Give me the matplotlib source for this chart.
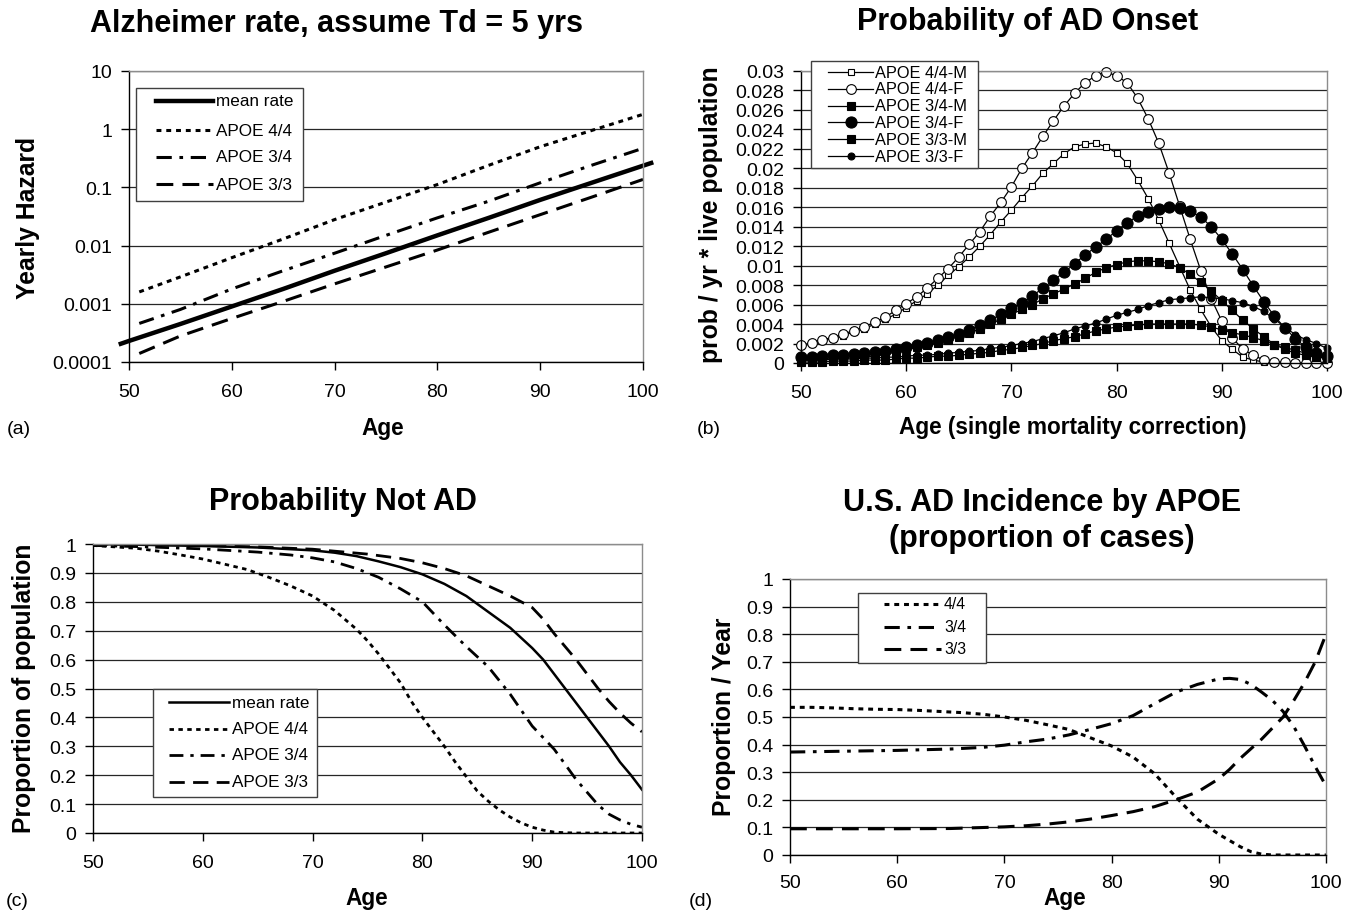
import numpy as np
import matplotlib
matplotlib.use("Agg")
import matplotlib.pyplot as plt
from matplotlib.ticker import FixedLocator, FuncFormatter, NullLocator
from matplotlib.lines import Line2D
from matplotlib.patches import Rectangle

plt.rcParams['font.family'] = ['Liberation Sans', 'DejaVu Sans']

# ---------------- data ----------------
# (a) yearly hazard (log scale)
a_mean_age = [49, 50, 55, 60, 65, 70, 75, 80, 85, 90, 95, 101]
a_mean = [0.0002, 0.00023, 0.00045, 0.0009, 0.0018, 0.0037, 0.0074, 0.015, 0.03, 0.061, 0.12, 0.27]
a_age = [51, 55, 60, 65, 70, 75, 80, 85, 90, 95, 100]
a_44 = [0.0016, 0.0029, 0.0062, 0.013, 0.028, 0.056, 0.112, 0.24, 0.5, 0.95, 1.8]
a_34 = [0.00046, 0.0008, 0.0018, 0.0037, 0.0074, 0.015, 0.03, 0.058, 0.12, 0.24, 0.47]
a_33 = [0.00014, 0.00028, 0.00056, 0.0011, 0.0022, 0.0043, 0.0084, 0.017, 0.034, 0.068, 0.137]
a_yticks = [0.0001, 0.001, 0.01, 0.1, 1, 10]
a_labels = ['mean rate', 'APOE 4/4', 'APOE 3/4', 'APOE 3/3']

# (b) probability of AD onset, ages 50..100
b_age = list(range(50, 101))
b_44M = [0.0017, 0.0020, 0.0023, 0.0025, 0.0028, 0.0032, 0.0035, 0.0040, 0.0045, 0.0050,
         0.0057, 0.0064, 0.0071, 0.0080, 0.0090, 0.0099, 0.0109, 0.0120, 0.0132, 0.0145,
         0.0157, 0.0170, 0.0182, 0.0195, 0.0205, 0.0215, 0.0222, 0.0225, 0.0226, 0.0222,
         0.0216, 0.0205, 0.0188, 0.0169, 0.0147, 0.0123, 0.0099, 0.0075, 0.0055, 0.0037,
         0.0023, 0.0014, 0.0006, 0.0003, 0.0001, 0.0001, 0.0, 0.0, 0.0, 0.0, 0.0]
b_44F = [0.0018, 0.0021, 0.0024, 0.0026, 0.0030, 0.0033, 0.0037, 0.0042, 0.0047, 0.0054,
         0.0061, 0.0068, 0.0077, 0.0087, 0.0097, 0.0109, 0.0122, 0.0135, 0.0151, 0.0165,
         0.0181, 0.0200, 0.0216, 0.0233, 0.0249, 0.0264, 0.0277, 0.0288, 0.0295, 0.0299,
         0.0295, 0.0288, 0.0272, 0.0251, 0.0226, 0.0195, 0.0161, 0.0127, 0.0095, 0.0066,
         0.0043, 0.0026, 0.0014, 0.0008, 0.0003, 0.0001, 0.0001, 0.0, 0.0, 0.0, 0.0]
b_34M = [0.0003, 0.0003, 0.0004, 0.0004, 0.0005, 0.0005, 0.0006, 0.0007, 0.0009, 0.0011,
         0.0014, 0.0016, 0.0018, 0.0021, 0.0024, 0.0027, 0.0031, 0.0035, 0.0040, 0.0045,
         0.0050, 0.0055, 0.0060, 0.0066, 0.0071, 0.0076, 0.0081, 0.0087, 0.0093, 0.0098,
         0.0101, 0.0104, 0.0105, 0.0105, 0.0104, 0.0102, 0.0098, 0.0091, 0.0083, 0.0074,
         0.0064, 0.0054, 0.0044, 0.0035, 0.0027, 0.0019, 0.0014, 0.0010, 0.0008, 0.0006, 0.0005]
b_34F = [0.0006, 0.0006, 0.0007, 0.0008, 0.0008, 0.0009, 0.0010, 0.0011, 0.0012, 0.0014,
         0.0016, 0.0018, 0.0021, 0.0024, 0.0027, 0.0030, 0.0034, 0.0039, 0.0044, 0.0050,
         0.0056, 0.0062, 0.0069, 0.0077, 0.0085, 0.0093, 0.0102, 0.0111, 0.0119, 0.0127,
         0.0136, 0.0144, 0.0151, 0.0155, 0.0158, 0.0160, 0.0159, 0.0156, 0.0150, 0.0140,
         0.0127, 0.0112, 0.0096, 0.0079, 0.0063, 0.0048, 0.0036, 0.0025, 0.0016, 0.0010, 0.0007]
b_33M = [0.0001, 0.0001, 0.0001, 0.0002, 0.0002, 0.0002, 0.0003, 0.0003, 0.0003, 0.0004,
         0.0005, 0.0005, 0.0006, 0.0007, 0.0007, 0.0008, 0.0009, 0.0010, 0.0011, 0.0013,
         0.0014, 0.0016, 0.0018, 0.0020, 0.0023, 0.0025, 0.0027, 0.0030, 0.0033, 0.0035,
         0.0037, 0.0038, 0.0039, 0.0040, 0.0040, 0.0040, 0.0040, 0.0040, 0.0039, 0.0037,
         0.0034, 0.0031, 0.0029, 0.0026, 0.0023, 0.0019, 0.0016, 0.0013, 0.0010, 0.0008, 0.0006]
b_33F = [0.0003, 0.0003, 0.0003, 0.0004, 0.0004, 0.0004, 0.0005, 0.0005, 0.0006, 0.0006,
         0.0007, 0.0008, 0.0008, 0.0009, 0.0010, 0.0011, 0.0012, 0.0013, 0.0015, 0.0016,
         0.0018, 0.0020, 0.0022, 0.0025, 0.0028, 0.0031, 0.0035, 0.0038, 0.0041, 0.0045,
         0.0049, 0.0052, 0.0055, 0.0059, 0.0062, 0.0065, 0.0066, 0.0067, 0.0068, 0.0067,
         0.0066, 0.0064, 0.0062, 0.0058, 0.0053, 0.0045, 0.0037, 0.0029, 0.0024, 0.0020, 0.0015]
b_yticks = [0, 0.002, 0.004, 0.006, 0.008, 0.01, 0.012, 0.014, 0.016, 0.018, 0.02,
            0.022, 0.024, 0.026, 0.028, 0.03]
b_labels = ['APOE 4/4-M', 'APOE 4/4-F', 'APOE 3/4-M', 'APOE 3/4-F', 'APOE 3/3-M', 'APOE 3/3-F']

# (c) probability not AD
c_mean_age = [50, 55, 60, 65, 70, 72, 74, 76, 78, 80, 82, 84, 86, 88, 90, 91, 92, 93, 94, 95, 96, 97, 98, 99, 100]
c_mean = [1.0, 0.997, 0.993, 0.988, 0.978, 0.97, 0.958, 0.94, 0.92, 0.895, 0.862, 0.82, 0.765,
          0.71, 0.64, 0.6, 0.55, 0.5, 0.45, 0.4, 0.35, 0.3, 0.245, 0.2, 0.15]
c_44_age = [50, 52, 54, 56, 58, 60, 62, 64, 66, 68, 70, 72, 74, 75, 76, 77, 78, 79, 80, 81, 82,
            83, 84, 85, 86, 87, 88, 89, 90, 91, 92, 93, 94, 100]
c_44 = [0.995, 0.99, 0.985, 0.975, 0.962, 0.948, 0.93, 0.912, 0.885, 0.855, 0.82, 0.77, 0.705,
        0.665, 0.62, 0.57, 0.52, 0.455, 0.4, 0.35, 0.3, 0.245, 0.195, 0.145, 0.11, 0.08, 0.055,
        0.035, 0.02, 0.01, 0.003, 0.001, 0.0, 0.0]
c_34_age = [50, 55, 60, 65, 68, 70, 72, 74, 76, 78, 80, 82, 84, 86, 88, 90, 92, 94, 96, 97, 98, 99, 100]
c_34 = [0.995, 0.99, 0.983, 0.972, 0.962, 0.952, 0.938, 0.915, 0.885, 0.845, 0.8, 0.72, 0.645,
        0.575, 0.48, 0.37, 0.29, 0.185, 0.097, 0.065, 0.045, 0.03, 0.02]
c_33_age = [50, 55, 60, 65, 70, 75, 78, 80, 82, 84, 86, 88, 90, 91, 92, 93, 94, 95, 96, 97, 98, 99, 100]
c_33 = [1.0, 0.998, 0.995, 0.99, 0.982, 0.965, 0.95, 0.935, 0.915, 0.89, 0.855, 0.82, 0.78,
        0.74, 0.69, 0.645, 0.6, 0.55, 0.5, 0.455, 0.415, 0.38, 0.35]

# (d) U.S. AD incidence by APOE
d_44_age = [50, 52, 54, 56, 58, 60, 62, 64, 66, 68, 70, 72, 74, 76, 78, 80, 82, 84, 86, 88, 90, 92, 93, 94, 95, 100]
d_44 = [0.535, 0.535, 0.533, 0.53, 0.528, 0.527, 0.524, 0.52, 0.516, 0.51, 0.5, 0.488, 0.472,
        0.455, 0.425, 0.395, 0.355, 0.295, 0.21, 0.13, 0.075, 0.03, 0.012, 0.003, 0.0, 0.0]
d_34_age = [50, 55, 60, 65, 68, 70, 72, 74, 76, 78, 80, 82, 84, 86, 88, 90, 91, 92, 93, 94, 95, 96, 97, 98, 99, 100]
d_34 = [0.373, 0.376, 0.379, 0.384, 0.39, 0.398, 0.41, 0.42, 0.435, 0.455, 0.476, 0.505, 0.548,
        0.59, 0.618, 0.638, 0.64, 0.636, 0.618, 0.59, 0.56, 0.52, 0.465, 0.395, 0.32, 0.25]
d_33_age = [50, 55, 60, 65, 70, 72, 74, 76, 78, 80, 82, 84, 86, 88, 90, 91, 92, 93, 94, 95, 96, 97, 98, 99, 100]
d_33 = [0.095, 0.095, 0.095, 0.096, 0.102, 0.106, 0.112, 0.12, 0.13, 0.143, 0.157, 0.175, 0.2,
        0.228, 0.276, 0.31, 0.35, 0.385, 0.42, 0.46, 0.5, 0.56, 0.625, 0.7, 0.8]
d_labels = ['4/4', '3/4', '3/3']

unit_yticks = [0, 0.1, 0.2, 0.3, 0.4, 0.5, 0.6, 0.7, 0.8, 0.9, 1]
x_ticks = [50, 60, 70, 80, 90, 100]

# ---------------- layout helpers ----------------
W, H = 1353, 912
fig = plt.figure(figsize=(W / 100, H / 100), dpi=100)


def rect(l, r, t, b):
    return [l / W, 1 - b / H, (r - l) / W, (b - t) / H]


def fx(x):
    return x / W


def fy(y):
    return 1 - y / H


fmt = FuncFormatter(lambda v, p: '{:g}'.format(round(v, 6)))
TICK_FS = 14
TITLE_FS = 22
XLABEL_FS = 16.3
YLABEL_FS = 17.8
PANEL_FS = 14


def style_axes(ax, yticks, xpad=9):
    for s in ['left', 'bottom']:
        ax.spines[s].set_color('black')
        ax.spines[s].set_linewidth(1.0)
    for s in ['top', 'right']:
        ax.spines[s].set_color('#8c8c8c')
        ax.spines[s].set_linewidth(1.0)
    ax.set_xlim(50, 100)
    ax.xaxis.set_major_locator(FixedLocator(x_ticks))
    ax.yaxis.set_major_locator(FixedLocator(yticks))
    ax.yaxis.set_minor_locator(NullLocator())
    ax.xaxis.set_minor_locator(NullLocator())
    ax.yaxis.set_major_formatter(fmt)
    ax.tick_params(axis='both', direction='out', length=6, width=1, color='black',
                   labelsize=TICK_FS, pad=6)
    ax.tick_params(axis='x', pad=xpad)
    ax.grid(axis='y', color='#262626', linewidth=0.9)
    ax.set_axisbelow(True)


def manual_legend(box, ys, lx0, lx1, tx, labels, styles, fs, markers=None):
    x0, x1, y0, y1 = box
    fig.add_artist(Rectangle((fx(x0), fy(y1)), (x1 - x0) / W, (y1 - y0) / H,
                             transform=fig.transFigure, facecolor='white',
                             edgecolor='#404040', linewidth=1.0, zorder=10))
    for i, (y, lab, st) in enumerate(zip(ys, labels, styles)):
        fig.add_artist(Line2D([fx(lx0), fx(lx1)], [fy(y), fy(y)], transform=fig.transFigure,
                              color='black', zorder=11, **st))
        if markers is not None:
            mk = markers[i]
            fig.add_artist(Line2D([fx((lx0 + lx1) / 2)], [fy(y)], transform=fig.transFigure,
                                  linestyle='none', zorder=12, **mk))
        fig.text(fx(tx), fy(y), lab, ha='left', va='center', fontsize=fs, zorder=12)


# styles
ls_dot = (0, (1.6, 1.6))
ls_dashdot = (0, (5, 2.5, 1.2, 2.5))
ls_dash = (0, (5.5, 3.0))

# ---------------- (a) ----------------
axA = fig.add_axes(rect(129, 643, 72, 363))
axA.set_yscale('log')
axA.set_ylim(0.0001, 10)
style_axes(axA, a_yticks)
axA.plot(a_mean_age, a_mean, color='black', lw=3.2, solid_capstyle='butt', clip_on=False)
axA.plot(a_age, a_44, color='black', lw=2.2, linestyle=ls_dot)
axA.plot(a_age, a_34, color='black', lw=2.2, linestyle=ls_dashdot)
axA.plot(a_age, a_33, color='black', lw=2.2, linestyle=ls_dash)
manual_legend((136, 303, 89, 202), [102, 131, 158, 185], 156, 213, 216, a_labels,
              [dict(lw=3.2), dict(lw=2.2, linestyle=ls_dot),
               dict(lw=2.2, linestyle=ls_dashdot), dict(lw=2.2, linestyle=ls_dash)], 12.3)
fig.text(fx(337), fy(24), 'Alzheimer rate, assume Td = 5 yrs', ha='center', va='center',
         fontsize=TITLE_FS, fontweight='bold')
fig.text(fx(28), fy(218), 'Yearly Hazard', rotation=90, ha='center', va='center',
         fontsize=YLABEL_FS, fontweight='bold')
fig.text(fx(383), fy(429), 'Age', ha='center', va='center', fontsize=XLABEL_FS, fontweight='bold')
fig.text(fx(19), fy(429), '(a)', ha='center', va='center', fontsize=PANEL_FS)

# ---------------- (b) ----------------
axB = fig.add_axes(rect(801, 1327, 72, 364))
axB.set_ylim(0, 0.03)
style_axes(axB, b_yticks)
b_series = [
    (b_44M, 's', 4.6, 'white'),
    (b_44F, 'o', 7.0, 'white'),
    (b_34M, 's', 5.6, 'black'),
    (b_34F, 'o', 8.0, 'black'),
    (b_33M, 's', 5.6, 'black'),
    (b_33F, 'o', 5.0, 'black'),
]
b_markers = []
for vals, mk, ms, mfc in b_series:
    axB.plot(b_age, vals, color='black', lw=0.9, marker=mk, markersize=ms,
             markerfacecolor=mfc, markeredgecolor='black', markeredgewidth=0.8, clip_on=False)
    b_markers.append(dict(marker=mk, markersize=ms, markerfacecolor=mfc,
                          markeredgecolor='black', markeredgewidth=0.8))
manual_legend((811, 978, 62, 169), [73 + 16.8 * i for i in range(6)], 828, 873, 875, b_labels,
              [dict(lw=0.9)] * 6, 11.8, markers=b_markers)
fig.text(fx(1028), fy(22), 'Probability of AD Onset', ha='center', va='center',
         fontsize=TITLE_FS, fontweight='bold')
fig.text(fx(711), fy(215), 'prob / yr * live population', rotation=90, ha='center', va='center',
         fontsize=YLABEL_FS, fontweight='bold')
fig.text(fx(1073), fy(428), 'Age (single mortality correction)', ha='center', va='center',
         fontsize=XLABEL_FS, fontweight='bold')
fig.text(fx(709), fy(429), '(b)', ha='center', va='center', fontsize=PANEL_FS)

# ---------------- (c) ----------------
axC = fig.add_axes(rect(93, 642, 545, 834))
axC.set_ylim(0, 1)
style_axes(axC, unit_yticks)
axC.plot(c_mean_age, c_mean, color='black', lw=1.8)
axC.plot(c_44_age, c_44, color='black', lw=2.0, linestyle=ls_dot)
axC.plot(c_34_age, c_34, color='black', lw=2.0, linestyle=ls_dashdot)
axC.plot(c_33_age, c_33, color='black', lw=2.0, linestyle=ls_dash)
manual_legend((153, 317, 690, 798), [703, 730, 756, 783], 169, 229, 232, a_labels,
              [dict(lw=1.8), dict(lw=2.0, linestyle=ls_dot),
               dict(lw=2.0, linestyle=ls_dashdot), dict(lw=2.0, linestyle=ls_dash)], 12.3)
fig.text(fx(343), fy(502), 'Probability Not AD', ha='center', va='center',
         fontsize=TITLE_FS, fontweight='bold')
fig.text(fx(24), fy(688), 'Proportion of population', rotation=90, ha='center', va='center',
         fontsize=YLABEL_FS, fontweight='bold')
fig.text(fx(367), fy(899), 'Age', ha='center', va='center', fontsize=XLABEL_FS, fontweight='bold')
fig.text(fx(17), fy(902), '(c)', ha='center', va='center', fontsize=PANEL_FS)

# ---------------- (d) ----------------
axD = fig.add_axes(rect(790, 1326, 580, 856))
axD.set_ylim(0, 1)
style_axes(axD, unit_yticks, xpad=8)
axD.plot(d_44_age, d_44, color='black', lw=2.2, linestyle=ls_dot)
axD.plot(d_34_age, d_34, color='black', lw=2.2, linestyle=ls_dashdot)
axD.plot(d_33_age, d_33, color='black', lw=2.2, linestyle=ls_dash, clip_on=False)
manual_legend((858, 986, 594, 664), [605, 628, 650], 884, 941, 944, d_labels,
              [dict(lw=2.2, linestyle=ls_dot), dict(lw=2.2, linestyle=ls_dashdot),
               dict(lw=2.2, linestyle=ls_dash)], 11.3)
fig.text(fx(1042), fy(503), 'U.S. AD Incidence by APOE', ha='center', va='center',
         fontsize=TITLE_FS, fontweight='bold')
fig.text(fx(1042), fy(539), '(proportion of cases)', ha='center', va='center',
         fontsize=TITLE_FS, fontweight='bold')
fig.text(fx(724), fy(717), 'Proportion / Year', rotation=90, ha='center', va='center',
         fontsize=YLABEL_FS, fontweight='bold')
fig.text(fx(1065), fy(899), 'Age', ha='center', va='center', fontsize=XLABEL_FS, fontweight='bold')
fig.text(fx(701), fy(902), '(d)', ha='center', va='center', fontsize=PANEL_FS)

fig.savefig('out.png', dpi=100, facecolor='white')
